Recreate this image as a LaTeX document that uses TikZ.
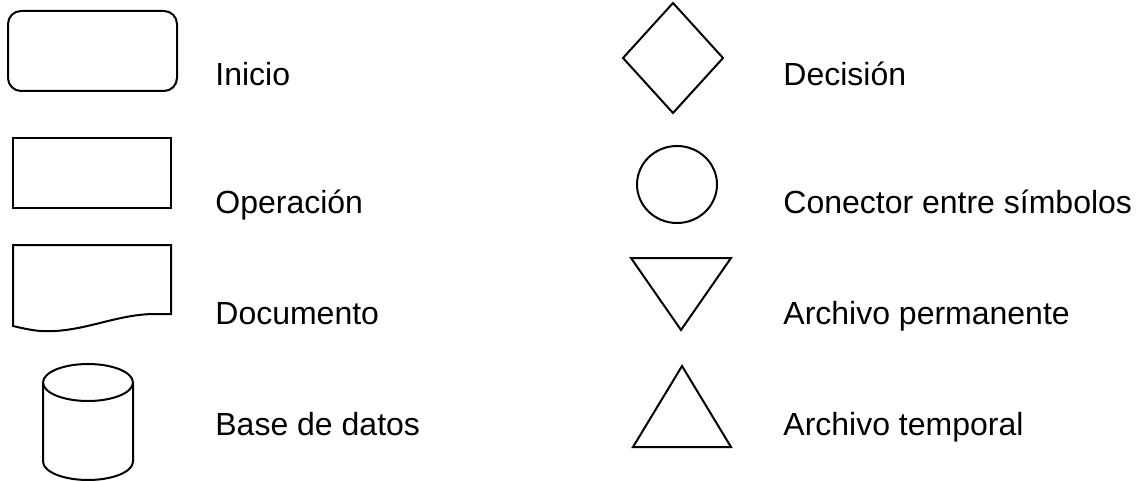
\documentclass[tikz,border=0pt]{standalone}
\usepackage{fontspec}
\setmainfont{Liberation Sans}
\usepackage{tikz}
\usetikzlibrary{positioning,calc}

\begin{document}
\begin{tikzpicture}[x=0.5pt,y=-0.5pt,
  sym/.style={draw,line width=1pt,line join=miter},
  lbl/.style={anchor=base west,inner sep=0pt,font=\fontsize{16pt}{19pt}\selectfont}
]
\useasboundingbox (0,0) rectangle (1138,481);

% simbolos de la izquierda
\draw[sym,rounded corners=6.5pt] (8,11) rectangle (177,91);
\draw[sym] (13,138) rectangle (171,208);
\draw[sym] (13,326) -- (13,245) -- (171,245) -- (171,314) -- (155,314)
  .. controls (120,314) and (90,329) .. (55,331)
  .. controls (40,332) and (30,330) .. (13,326) -- cycle;
\draw[sym] (88,382.5) ellipse[x radius=45,y radius=18.5];
\draw[sym] (43,382.5) -- (43,461.5) arc[start angle=180,end angle=0,x radius=45,y radius=18.5] -- (133,382.5);

% simbolos de la derecha
\draw[sym] (673,3) -- (723,58) -- (673,113) -- (623,58) -- cycle;
\draw[sym] (677,184.5) ellipse[x radius=40,y radius=38.5];
\draw[sym] (631,258) -- (731,258) -- (681,330) -- cycle;
\draw[sym] (682,366) -- (731,447) -- (633,447) -- cycle;

% textos
\node[lbl] (inicio) at (215,85)  {Inicio};
\node[lbl] (oper)   at (215,213) {Operación};
\node[lbl] (doc)    at (215,324) {Documento};
\node[lbl] (bd)     at (215,435) {Base de datos};
\node[lbl] (dec)    at (783,85)  {Decisión};
\node[lbl] (con)    at (783,213) {Conector entre símbolos};
\node[lbl] (perm)   at (783,324) {Archivo permanente};
\node[lbl] (temp)   at (783,435) {Archivo temporal};
\end{tikzpicture}
\end{document}
